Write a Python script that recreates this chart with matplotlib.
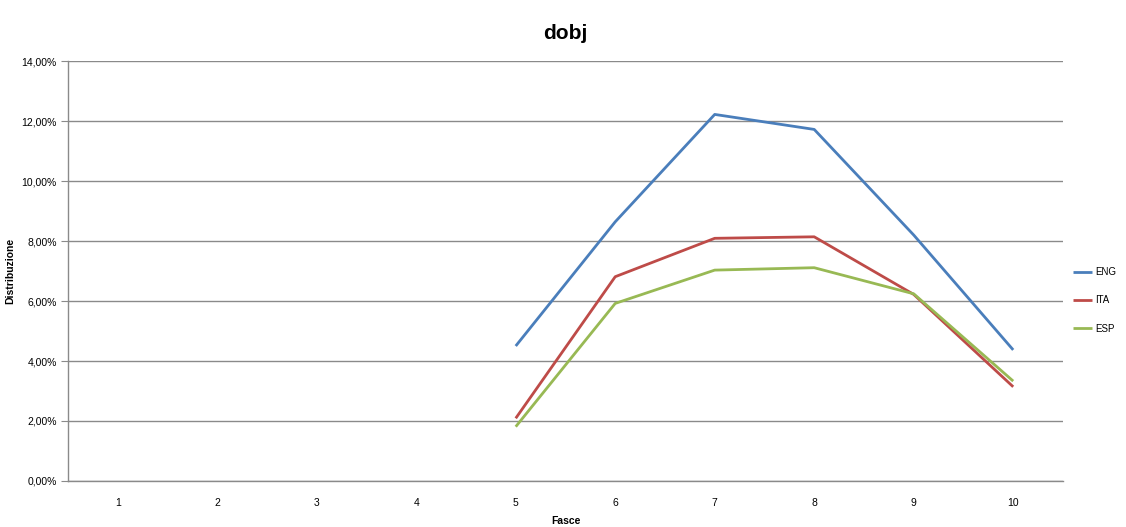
import matplotlib
matplotlib.use("Agg")
import matplotlib.pyplot as plt
from matplotlib.ticker import FuncFormatter

plt.rcParams['font.family'] = ['Liberation Sans', 'DejaVu Sans']

fasce = [1, 2, 3, 4, 5, 6, 7, 8, 9, 10]
eng = [None, None, None, None, 4.50, 8.64, 12.22, 11.72, 8.20, 4.37]
ita = [None, None, None, None, 2.09, 6.81, 8.09, 8.14, 6.22, 3.14]
esp = [None, None, None, None, 1.81, 5.92, 7.03, 7.11, 6.24, 3.33]

series = [("ENG", eng, "#4A7EBB"), ("ITA", ita, "#BE4B48"), ("ESP", esp, "#98B954")]

fig = plt.figure(figsize=(11.26, 5.27), dpi=100)
ax = fig.add_axes([0.0604, 0.0873, 0.8836, 0.7969])

for name, vals, col in series:
    xs = [f for f, v in zip(fasce, vals) if v is not None]
    ys = [v / 100 for v in vals if v is not None]
    ax.plot(xs, ys, color=col, lw=2.0, label=name, solid_capstyle='butt')

ax.set_xlim(0.5, 10.5)
ax.set_ylim(0, 0.14)
ax.set_yticks([i * 0.02 for i in range(8)])
ax.yaxis.set_major_formatter(FuncFormatter(lambda v, p: f"{v*100:.2f}%".replace(".", ",")))
ax.set_xticks(fasce)
ax.set_xticklabels([str(f) for f in fasce])
ax.grid(axis='y', color='#8a8a8a', lw=1.0)
ax.set_axisbelow(True)

for s in ['top', 'right']:
    ax.spines[s].set_visible(False)
for s in ['left', 'bottom']:
    ax.spines[s].set_color('#8a8a8a')
    ax.spines[s].set_linewidth(1.0)

ax.tick_params(axis='y', length=5, color='#8a8a8a', labelsize=7.5, pad=3)
ax.tick_params(axis='x', length=0, labelsize=7.5, pad=12)

ax.set_ylabel("Distribuzione", fontsize=7.5, fontweight='bold')
ax.yaxis.set_label_coords(-0.053, 0.5)
ax.set_xlabel("Fasce", fontsize=7.5, fontweight='bold')
ax.xaxis.set_label_coords(0.5, -0.083)
ax.set_title("dobj", fontsize=15, fontweight='bold', pad=16)

ax.legend(loc='center left', bbox_to_anchor=(1.003, 0.43), frameon=False,
          fontsize=7, handlelength=2.0, handletextpad=0.3, labelspacing=1.9,
          borderaxespad=0.3)

fig.savefig("out.png", dpi=100, facecolor='white')
